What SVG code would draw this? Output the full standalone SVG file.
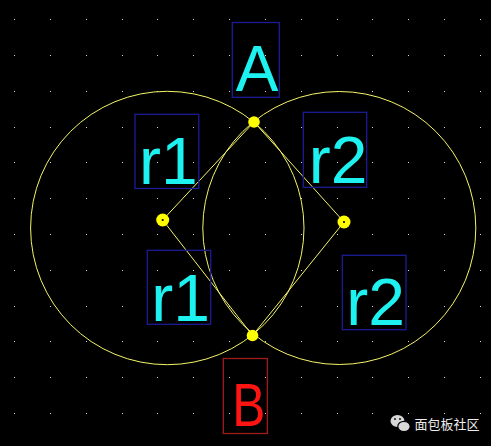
<svg xmlns="http://www.w3.org/2000/svg" xmlns:xlink="http://www.w3.org/1999/xlink" width="491" height="446" viewBox="0 0 491 446">
<style>
.bg{fill:#000}
.grid{fill:#d8d8d8}
.circ{fill:none;stroke:#f5f56a;stroke-width:1}
.seg{fill:none;stroke:#f5f56a;stroke-width:1}
.pt{fill:#ffff00}
.ptc{fill:#000}
.bbox{fill:none;stroke:#1c1c96;stroke-width:1.3}
.rbox{fill:none;stroke:#a01c1c;stroke-width:1.3}
.lbl{font-family:"Liberation Sans",Arial,sans-serif;text-anchor:middle}
.cy{fill:#1ef2f0}
.rd{fill:#ff1414}
.wm{font-family:"Noto Sans CJK SC","Noto Sans",sans-serif;font-size:13px;fill:#ececec}
</style>
<defs>
<g id="row">
<rect x="14" y="19" width="1" height="1"/><rect x="50" y="19" width="1" height="1"/><rect x="86" y="19" width="1" height="1"/><rect x="122" y="19" width="1" height="1"/><rect x="157" y="19" width="1" height="1"/><rect x="193" y="19" width="1" height="1"/><rect x="229" y="19" width="1" height="1"/><rect x="265" y="19" width="1" height="1"/><rect x="301" y="19" width="1" height="1"/><rect x="337" y="19" width="1" height="1"/><rect x="372" y="19" width="1" height="1"/><rect x="408" y="19" width="1" height="1"/><rect x="444" y="19" width="1" height="1"/><rect x="480" y="19" width="1" height="1"/>
</g>
</defs>
<rect class="bg" x="0" y="0" width="491" height="446"/>
<g id="grid" class="grid">
<use xlink:href="#row" y="0"/><use xlink:href="#row" y="36"/><use xlink:href="#row" y="72"/><use xlink:href="#row" y="108"/><use xlink:href="#row" y="143"/><use xlink:href="#row" y="179"/><use xlink:href="#row" y="215"/><use xlink:href="#row" y="251"/><use xlink:href="#row" y="287"/><use xlink:href="#row" y="322"/><use xlink:href="#row" y="358"/><use xlink:href="#row" y="394"/>
</g>
<g id="circle-left"><circle class="circ" cx="167.3" cy="228" r="136.7"/></g>
<g id="circle-right"><circle class="circ" cx="339.3" cy="228" r="136.5"/></g>
<g id="connectors">
<line class="seg" x1="162.7" y1="220" x2="254" y2="122"/>
<line class="seg" x1="162.7" y1="220" x2="252.5" y2="335.5"/>
<line class="seg" x1="344" y1="222" x2="254" y2="122"/>
<line class="seg" x1="344" y1="222" x2="252.5" y2="335.5"/>
</g>
<g id="point-A"><circle class="pt" cx="254" cy="122" r="5.8"/></g>
<g id="point-B"><circle class="pt" cx="252.5" cy="335.5" r="5.8"/></g>
<g id="point-O1"><circle class="pt" cx="162.7" cy="220" r="6.5"/><circle class="ptc" cx="162.7" cy="220" r="1.1"/></g>
<g id="point-O2"><circle class="pt" cx="344" cy="222" r="6.5"/><circle class="ptc" cx="344" cy="222" r="1.1"/></g>
<g id="label-A"><rect class="bbox" x="232.3" y="22.5" width="47" height="74.8"/><text class="lbl cy" x="257.2" y="91" font-size="64">A</text></g>
<g id="label-r1-top"><rect class="bbox" x="135" y="114.3" width="63.8" height="74.2"/><text class="lbl cy" x="168.4" y="184" font-size="66">r1</text></g>
<g id="label-r2-top"><rect class="bbox" x="303.3" y="112.3" width="63.4" height="75"/><text class="lbl cy" x="338" y="182.7" font-size="66">r2</text></g>
<g id="label-r1-bottom"><rect class="bbox" x="147.3" y="250.3" width="63.4" height="74"/><text class="lbl cy" x="180.5" y="320.7" font-size="66">r1</text></g>
<g id="label-r2-bottom"><rect class="bbox" x="342.3" y="255.3" width="63.7" height="74.4"/><text class="lbl cy" x="375.5" y="324.7" font-size="66">r2</text></g>
<g id="label-B"><rect class="rbox" x="223.3" y="358.5" width="44" height="75"/><text class="lbl rd" x="248.7" y="426" font-size="62" transform="translate(248.7 0) scale(0.8 1) translate(-248.7 0)">B</text></g>
<g id="watermark">
<ellipse cx="397.5" cy="421" rx="7" ry="6" fill="#d8d8d8"/>
<ellipse cx="404" cy="426.5" rx="6.2" ry="5.2" fill="#d8d8d8" stroke="#000" stroke-width="1.2"/>
<circle cx="395" cy="419" r="0.9" fill="#000"/><circle cx="400" cy="419" r="0.9" fill="#000"/>
<text class="wm" x="414.5" y="428.5">面包板社区</text>
</g>
</svg>
